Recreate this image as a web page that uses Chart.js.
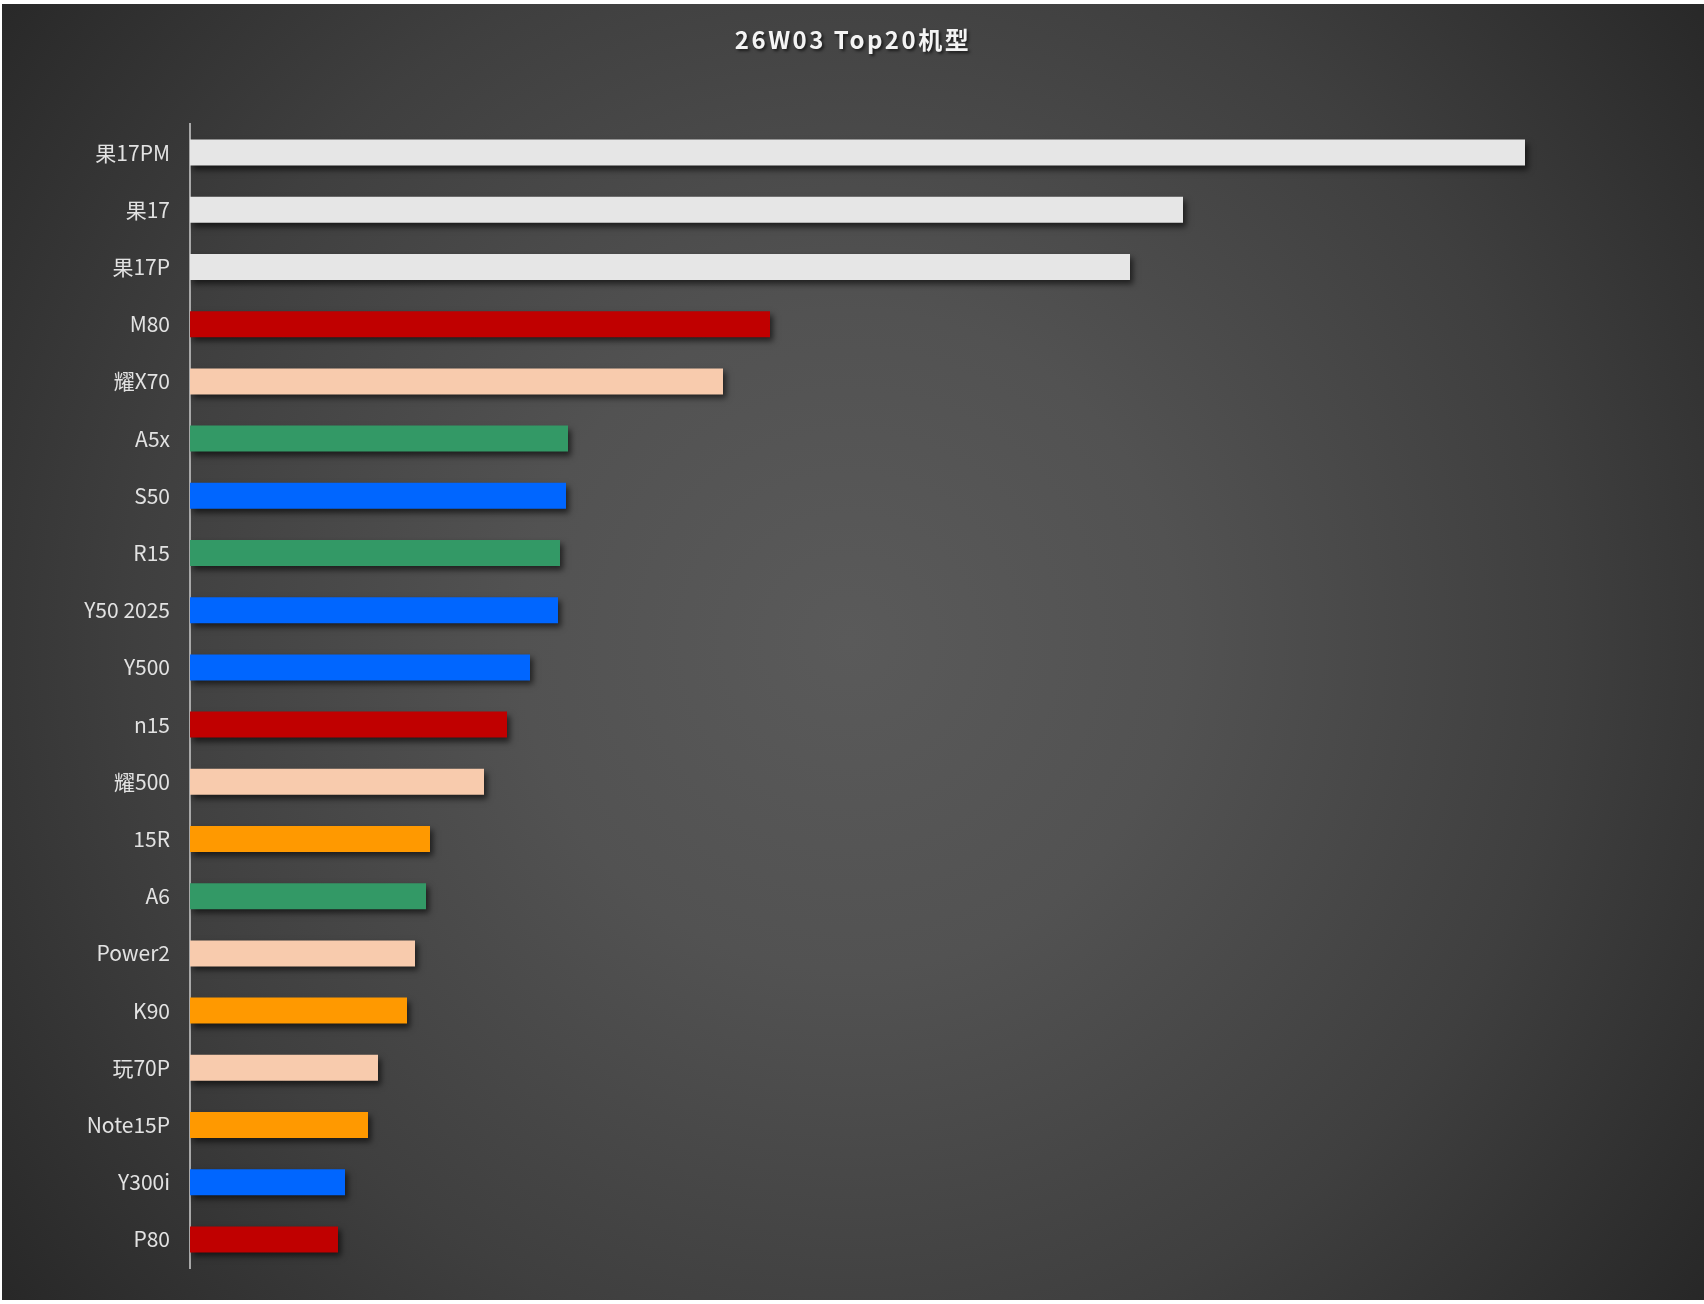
<!DOCTYPE html>
<html>
<head>
<meta charset="utf-8">
<script src="https://cdn.jsdelivr.net/npm/chart.js@4.4.1/dist/chart.umd.min.js"></script>
<style>
    html, body { margin: 0; padding: 0; background: #fff; }
    #wrap { width: 1704px; height: 1304px; }
</style>
</head>
<body>
<div id="wrap"><canvas id="topChart" width="1704" height="1304"></canvas></div>
<script>
const chartTitle = '26W03 Top20机型';

const models = ['果17PM', '果17', '果17P', 'M80', '耀X70', 'A5x', 'S50', 'R15', 'Y50 2025', 'Y500',
    'n15', '耀500', '15R', 'A6', 'Power2', 'K90', '玩70P', 'Note15P', 'Y300i', 'P80'];

// bar lengths (no value axis shown, arbitrary units)
const sales = [1335, 993, 940, 580, 533, 378, 376, 370, 368, 340,
    317, 294, 240, 236, 225, 217, 188, 178, 155, 148];

const brands = ['apple', 'apple', 'apple', 'huawei', 'honor', 'oppo', 'vivo', 'oppo', 'vivo', 'vivo',
    'huawei', 'honor', 'xiaomi', 'oppo', 'honor', 'xiaomi', 'honor', 'xiaomi', 'vivo', 'huawei'];

const brandColors = {
    apple: '#e6e6e6',
    huawei: '#c00000',
    honor: '#f8cbad',
    oppo: '#339966',
    vivo: '#0066ff',
    xiaomi: '#ff9900'
};

const backgroundPlugin = {
    id: 'background',
    beforeDraw(chart) {
        const ctx = chart.ctx;
        const w = chart.width, h = chart.height;
        ctx.save();
        ctx.fillStyle = '#ffffff';
        ctx.fillRect(0, 0, w, h);
        const g = ctx.createRadialGradient(850, 640, 0, 850, 640, 1100);
        g.addColorStop(0, '#5a5a5a');
        g.addColorStop(0.3, '#525252');
        g.addColorStop(0.65, '#3f3f3f');
        g.addColorStop(1, '#262626');
        ctx.fillStyle = g;
        ctx.fillRect(2, 4, w - 2, h - 8);
        ctx.restore();
    }
};

const shadowPlugin = {
    id: 'barShadow',
    beforeDatasetsDraw(chart) {
        const ctx = chart.ctx;
        ctx.save();
        ctx.shadowColor = 'rgba(0, 0, 0, 0.6)';
        ctx.shadowOffsetX = 3;
        ctx.shadowOffsetY = 4;
        ctx.shadowBlur = 6;
    },
    afterDatasetsDraw(chart) {
        chart.ctx.restore();
    }
};

const titlePlugin = {
    id: 'shadowTitle',
    afterDraw(chart) {
        const ctx = chart.ctx;
        ctx.save();
        ctx.font = 'bold 24px "Noto Sans CJK SC"';
        ctx.letterSpacing = '2.5px';
        ctx.textAlign = 'center';
        ctx.textBaseline = 'middle';
        ctx.shadowColor = 'rgba(0, 0, 0, 0.6)';
        ctx.shadowOffsetX = 2;
        ctx.shadowOffsetY = 2;
        ctx.shadowBlur = 3;
        ctx.fillStyle = '#f4f4f4';
        ctx.fillText(chartTitle, 853, 40);
        ctx.restore();
    }
};

const ctx = document.getElementById('topChart').getContext('2d');
const topChart = new Chart(ctx, {
    type: 'bar',
    data: {
        labels: models,
        datasets: [{
            data: sales,
            backgroundColor: brands.map(b => brandColors[b]),
            borderWidth: 0,
            categoryPercentage: 1,
            barPercentage: 0.455
        }]
    },
    options: {
        indexAxis: 'y',
        responsive: false,
        devicePixelRatio: 1,
        animation: false,
        layout: {
            padding: { top: 124, bottom: 36, left: 0, right: 14 }
        },
        plugins: {
            legend: { display: false },
            tooltip: { enabled: false },
            title: { display: false }
        },
        scales: {
            x: {
                display: false,
                min: 0,
                max: 1500
            },
            y: {
                grid: { display: false, drawTicks: false },
                border: { display: true, color: '#a8a8a8', width: 2 },
                ticks: {
                    color: '#e2e2e2',
                    padding: 20,
                    font: { family: '"Noto Sans CJK SC"', size: 21 }
                },
                afterFit(scale) {
                    scale.width = 190;
                }
            }
        }
    },
    plugins: [backgroundPlugin, shadowPlugin, titlePlugin]
});
</script>
</body>
</html>
